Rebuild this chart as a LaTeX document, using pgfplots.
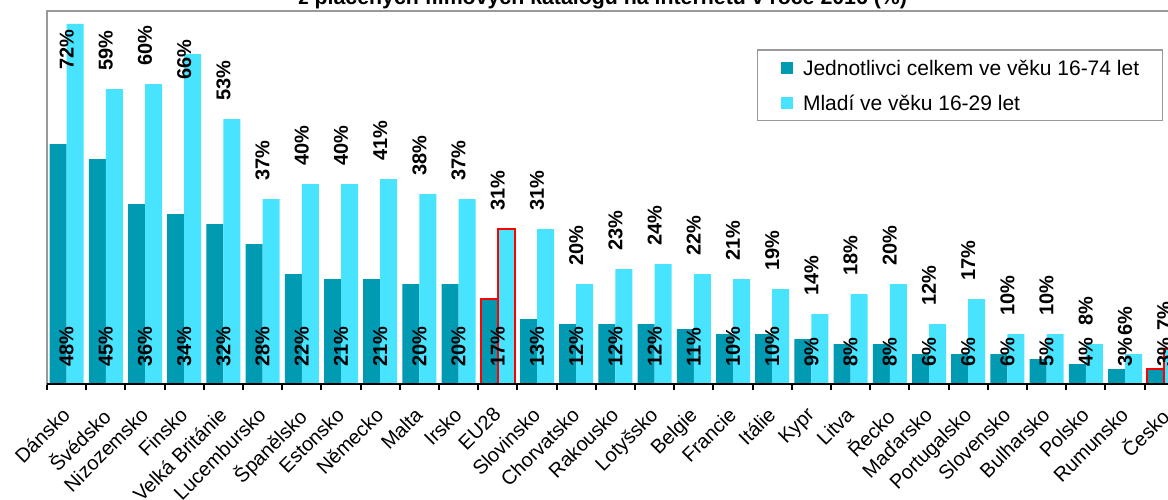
\documentclass[border=0pt]{standalone}
\usepackage{fontspec}
\setmainfont{Liberation Sans}
\usepackage{pgfplots}
\pgfplotsset{compat=1.18}
\definecolor{dark}{RGB}{0,154,178}
\definecolor{light}{RGB}{72,227,255}
\begin{document}
\begin{tikzpicture}
\useasboundingbox (0,0) rectangle (584pt,249.5pt);
\begin{axis}[
  at={(23.5pt,57.5pt)}, anchor=south west,
  scale only axis, width=568.4pt, height=186.5pt,
  xmin=-0.5, xmax=28.5, ymin=0, ymax=74.6,
  clip=false,
  axis line style={draw=gray!80, line width=0.8pt},
  xtick={0,...,28},
  xticklabels={Dánsko,Švédsko,Nizozemsko,Finsko,Velká Británie,Lucembursko,Španělsko,Estonsko,Německo,Malta,Irsko,EU28,Slovinsko,Chorvatsko,Rakousko,Lotyšsko,Belgie,Francie,Itálie,Kypr,Litva,Řecko,Maďarsko,Portugalsko,Slovensko,Bulharsko,Polsko,Rumunsko,Česko},
  major tick length=0pt,
  minor xtick={-0.5,0.5,...,28.5},
  minor tick length=3pt,
  tick align=outside,
  xtick pos=bottom,
  ytick=\empty,
  minor tick style={black, line width=1pt},
  xticklabel style={font=\fontsize{10}{12}\selectfont, xshift=-2.9pt, yshift=-10.7pt, rotate=45, anchor=north east, inner sep=0pt},
  title={\bfseries z placených filmových katalogů na internetu v roce 2016 (\%)},
  title style={at={(axis description cs:0.4887,1.0161)}, anchor=base, yshift=-6pt, font=\fontsize{10.66}{12.8}\selectfont, inner sep=0pt},
  legend style={at={(axis description cs:0.6243,0.898)}, anchor=north west, draw=gray!80, line width=0.8pt,
     font=\fontsize{10.5}{12.6}\selectfont, inner xsep=11.75pt, inner ysep=4pt,
     nodes={inner sep=0pt, text height=9pt, text depth=1pt}, column sep=5pt, row sep=7.35pt},
  legend cell align=left,
  legend image code/.code={\fill[#1] (0pt,-3pt) rectangle (6pt,3pt);},
  nodes near coords style={font=\bfseries\fontsize{10}{12}\selectfont, rotate=90, anchor=west, inner ysep=0pt},
]
% main bars
\addplot[ybar, bar width=8.5pt, bar shift=-4.25pt, fill=dark, draw=none] coordinates {
(0,48) (1,45) (2,36) (3,34) (4,32) (5,28) (6,22) (7,21) (8,21) (9,20) (10,20) (11,17) (12,13) (13,12) (14,12)
(15,12) (16,11) (17,10) (18,10) (19,9) (20,8) (21,8) (22,6) (23,6) (24,6) (25,5) (26,4) (27,3) (28,3)};
\addlegendentry{Jednotlivci celkem ve věku 16-74 let}
\addplot[ybar, bar width=8.5pt, bar shift=4.25pt, fill=light, draw=none,
  nodes near coords, point meta=explicit symbolic, nodes near coords style={inner xsep=9pt}] coordinates {
(0,72) [] (1,59) [59\%] (2,60) [60\%] (3,66) [] (4,53) [53\%] (5,37) [37\%] (6,40) [40\%] (7,40) [40\%]
(8,41) [41\%] (9,38) [38\%] (10,37) [37\%] (11,31) [31\%] (12,31) [31\%] (13,20) [20\%] (14,23) [23\%]
(15,24) [24\%] (16,22) [22\%] (17,21) [21\%] (18,19) [19\%] (19,14) [14\%] (20,18) [18\%] (21,20) [20\%]
(22,12) [12\%] (23,17) [17\%] (24,10) [10\%] (25,10) [10\%] (26,8) [8\%] (27,6) [6\%] (28,7) [7\%]};
\addlegendentry{Mladí ve věku 16-29 let}
% highlighted bars (EU28, Česko)
\addplot[ybar, bar width=8.5pt, bar shift=-4.25pt, fill=dark, draw=red, line width=1pt, forget plot] coordinates {(11,17) (28,3)};
\addplot[ybar, bar width=8.5pt, bar shift=4.25pt, fill=light, draw=red, line width=1pt, forget plot] coordinates {(11,31) (28,7)};
% labels inside the two tallest young bars
\addplot[ybar, bar width=8.5pt, bar shift=4.25pt, draw=none, fill=none, forget plot,
  nodes near coords, point meta=explicit symbolic, nodes near coords style={inner xsep=0pt}] coordinates {(0,62.8) [72\%] (3,60.8) [66\%]};
% labels at the base of the total bars
\addplot[ybar, bar width=8.5pt, bar shift=-4.25pt, draw=none, fill=none, forget plot,
  nodes near coords, point meta=explicit symbolic, nodes near coords style={inner xsep=8.5pt}] coordinates {
(0,0) [48\%] (1,0) [45\%] (2,0) [36\%] (3,0) [34\%] (4,0) [32\%] (5,0) [28\%] (6,0) [22\%] (7,0) [21\%]
(8,0) [21\%] (9,0) [20\%] (10,0) [20\%] (11,0) [17\%] (12,0) [13\%] (13,0) [12\%] (14,0) [12\%]
(15,0) [12\%] (16,0) [11\%] (17,0) [10\%] (18,0) [10\%] (19,0) [9\%] (20,0) [8\%] (21,0) [8\%]
(22,0) [6\%] (23,0) [6\%] (24,0) [6\%] (25,0) [5\%] (26,0) [4\%] (27,0) [3\%] (28,0) [3\%]};
\draw[black, line width=1pt] (rel axis cs:0,0) -- (rel axis cs:1,0);
\end{axis}
\end{tikzpicture}
\end{document}
